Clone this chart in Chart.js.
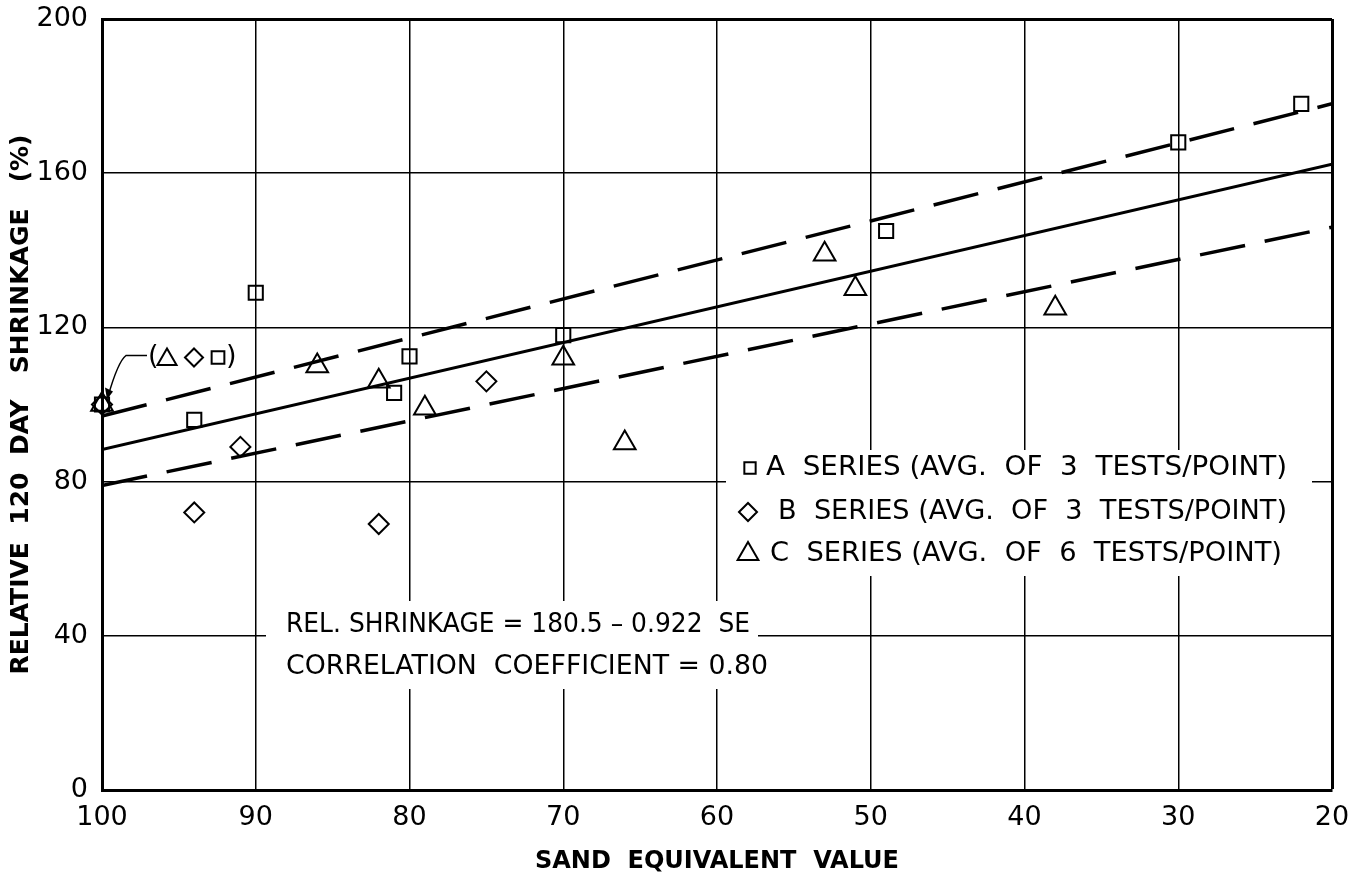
<!DOCTYPE html>
<html>
<head>
<meta charset="utf-8">
<script src="https://cdn.jsdelivr.net/npm/chart.js@4"></script>
<style>
  body { margin: 0; background: #fff; }
  canvas { display: block; }
</style>
</head>
<body>
<canvas id="chart" width="1360" height="878"></canvas>
<script>
// data (x = sand equivalent, y = relative 120 day shrinkage %)
const seriesA = [[100, 100], [94, 96], [90, 129], [81, 103], [80, 112.5], [70, 118], [49, 145], [30, 168], [22, 178]];
const seriesB = [[100, 100], [94, 72], [91, 89], [82, 69], [75, 106]];
const seriesC = [[100, 100], [86, 110], [82, 106], [79, 99], [70, 112], [66, 90], [53, 139], [51, 130], [38, 125]];

// fit line and the two dashed limit lines, ends at SE = 100 and SE = 20
const lineX = [100, 20];
const fitLine = [88.3, 162.3];
const upperLine = [97, 178];
const lowerLine = [79, 146];

const xTicks = [100, 90, 80, 70, 60, 50, 40, 30, 20];
const yTicks = [0, 40, 80, 120, 160, 200];

const legendLabels = [
  'A  SERIES (AVG.  OF  3  TESTS/POINT)',
  'B  SERIES (AVG.  OF  3  TESTS/POINT)',
  'C  SERIES (AVG.  OF  6  TESTS/POINT)'
];
const noteLines = ['REL. SHRINKAGE = 180.5 \u2013 0.922  SE', 'CORRELATION  COEFFICIENT = 0.80'];

const FONT = '"DejaVu Sans", sans-serif';
const pts = arr => arr.map(p => ({ x: p[0], y: p[1] }));
const line = ys => lineX.map((x, i) => ({ x: x, y: ys[i] }));

// draw text squeezed / stretched to a given width
function fitText(ctx, text, x, y, width) {
  const w = ctx.measureText(text).width;
  ctx.save();
  ctx.translate(x, y);
  ctx.scale(width / w, 1);
  ctx.fillText(text, 0, 0);
  ctx.restore();
}

// open marker, no fill
function marker(ctx, style, r, x, y) {
  ctx.save();
  ctx.fillStyle = 'rgba(0,0,0,0)';
  ctx.strokeStyle = '#000';
  ctx.lineWidth = 2;
  Chart.helpers.drawPoint(ctx, { pointStyle: style, radius: r, borderWidth: 2 }, x, y);
  ctx.restore();
}

const overlay = {
  id: 'overlay',
  afterDatasetsDraw(chart) {
    const { ctx, chartArea: a, scales: { x, y } } = chart;
    ctx.save();
    ctx.strokeStyle = '#000';
    ctx.textBaseline = 'middle';
    ctx.textAlign = 'left';

    // legend box
    ctx.fillStyle = '#fff';
    ctx.fillRect(a.left + 624, a.top + 431, 586, 126);
    ctx.fillStyle = '#000';
    ctx.font = '27px ' + FONT;
    const rows = [
      { style: 'rect', r: 8, sx: 750, tx: 766, w: 521, y: 468 },
      { style: 'rectRot', r: 9, sx: 748, tx: 778, w: 509, y: 512 },
      { style: 'triangle', r: 12, sx: 748, tx: 770, w: 512, y: 554 }
    ];
    rows.forEach((row, i) => {
      marker(ctx, row.style, row.r, row.sx, row.y);
      ctx.fillStyle = '#000';
      fitText(ctx, legendLabels[i], row.tx, row.y, row.w);
    });

    // regression note
    ctx.fillStyle = '#fff';
    ctx.fillRect(a.left + 164, a.top + 582, 492, 88);
    ctx.fillStyle = '#000';
    fitText(ctx, noteLines[0], 286, 625, 464);
    fitText(ctx, noteLines[1], 286, 667, 482);

    // (triangle diamond square) callout on the common point at SE = 100
    const px = x.getPixelForValue(100), py = y.getPixelForValue(100);
    const ly = py - 47;
    ctx.fillText('(', px + 46, ly - 1);
    ctx.fillText(')', px + 124, ly - 1);
    marker(ctx, 'triangle', 11, px + 65, ly + 2);
    marker(ctx, 'rectRot', 9, px + 92, ly);
    marker(ctx, 'rect', 9, px + 116, ly);
    ctx.lineWidth = 1.5;
    ctx.beginPath();
    ctx.moveTo(px + 45, ly - 2);
    ctx.lineTo(px + 24, ly - 2);
    ctx.quadraticCurveTo(px + 16, ly + 4, px + 6, py - 8);
    ctx.stroke();
    ctx.beginPath();
    ctx.moveTo(px + 5, py - 5);
    ctx.lineTo(px + 3, py - 17);
    ctx.lineTo(px + 11, py - 13);
    ctx.closePath();
    ctx.fill();
    ctx.restore();
  }
};

const edgeWidth = (ctx, edge) => (ctx.tick && ctx.tick.value === edge ? 3 : 1.5);

new Chart(document.getElementById('chart'), {
  type: 'scatter',
  data: {
    datasets: [
      { label: 'A', data: pts(seriesA), pointStyle: 'rect', pointRadius: 10, pointBorderWidth: 2,
        borderColor: '#000', backgroundColor: 'transparent', clip: false },
      { label: 'B', data: pts(seriesB), pointStyle: 'rectRot', pointRadius: 10, pointBorderWidth: 2,
        borderColor: '#000', backgroundColor: 'transparent', clip: false },
      { label: 'C', data: pts(seriesC), pointStyle: 'triangle', pointRadius: 12.5, pointBorderWidth: 2,
        borderColor: '#000', backgroundColor: 'transparent', clip: false },
      { label: 'fit', data: line(fitLine), showLine: true, pointRadius: 0, borderColor: '#000', borderWidth: 3 },
      { label: 'upper', data: line(upperLine), showLine: true, pointRadius: 0, borderColor: '#000', borderWidth: 3.5,
        borderDash: [46, 20] },
      { label: 'lower', data: line(lowerLine), showLine: true, pointRadius: 0, borderColor: '#000', borderWidth: 3.5,
        borderDash: [46, 20] }
    ]
  },
  options: {
    responsive: false,
    animation: false,
    devicePixelRatio: 1,
    layout: { padding: { top: 19, right: 28, left: 0, bottom: 0 } },
    plugins: { legend: { display: false }, tooltip: { enabled: false } },
    scales: {
      x: {
        type: 'linear', min: 20, max: 100, reverse: true,
        afterBuildTicks: s => { s.ticks = xTicks.map(v => ({ value: v })); },
        afterFit: s => { s.height = 88; s.paddingLeft = 0; s.paddingRight = 0; },
        grid: { color: '#000', lineWidth: c => edgeWidth(c, 20), drawTicks: false },
        border: { color: '#000', width: 3 },
        ticks: { color: '#000', padding: 12, maxRotation: 0, font: { family: FONT, size: 27 } },
        title: { display: true, text: 'SAND  EQUIVALENT  VALUE', color: '#000',
          font: { family: FONT, size: 24, weight: 'bold' }, padding: { top: 0, bottom: 2 } }
      },
      y: {
        type: 'linear', min: 0, max: 200,
        afterBuildTicks: s => { s.ticks = yTicks.map(v => ({ value: v })); },
        afterFit: s => { s.width = 102; s.paddingTop = 0; s.paddingBottom = 0; },
        grid: { color: '#000', lineWidth: c => edgeWidth(c, 200), drawTicks: false },
        border: { color: '#000', width: 3 },
        ticks: { color: '#000', padding: 14, font: { family: FONT, size: 27 } },
        title: { display: true, text: 'RELATIVE  120  DAY   SHRINKAGE   (%)', color: '#000',
          font: { family: FONT, size: 25, weight: 'bold' }, padding: { top: 6, bottom: 0 } }
      }
    }
  },
  plugins: [overlay]
});
</script>
</body>
</html>
